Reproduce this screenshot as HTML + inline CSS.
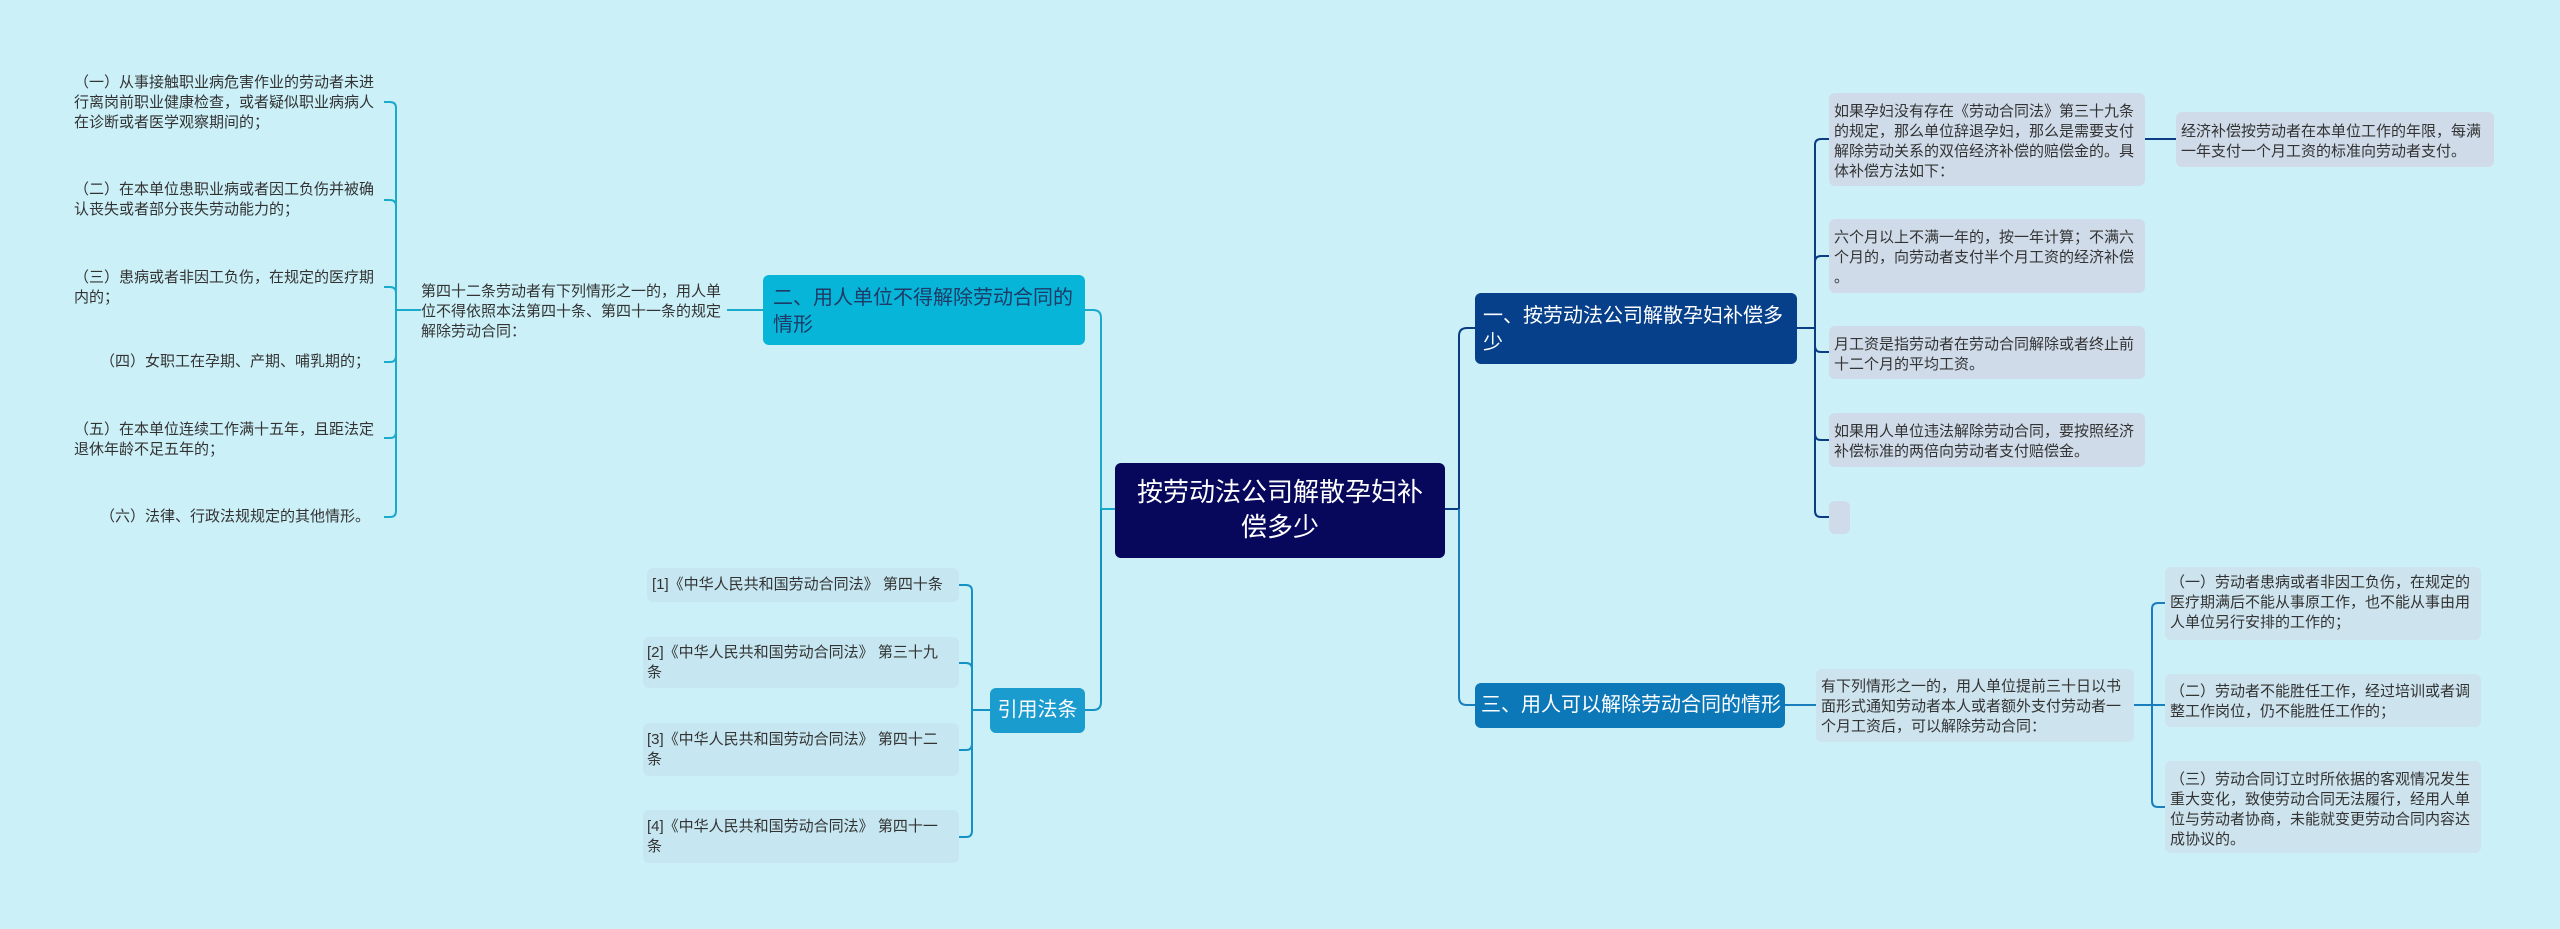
<!DOCTYPE html>
<html><head><meta charset="utf-8"><style>
body{margin:0;width:2560px;height:929px;background:#cbf0f8;position:relative;overflow:hidden;font-family:"Liberation Sans","Noto Sans CJK SC",sans-serif;}
.t{position:absolute;font-size:15px;line-height:20px;color:#333;white-space:nowrap;}
.b{position:absolute;border-radius:6px;box-sizing:border-box;}
.box{background:#cfdbe9;}
.lb{background:#c6e7f1;}
.n{position:absolute;border-radius:6px;box-sizing:border-box;font-size:20px;line-height:27px;white-space:nowrap;}
</style></head><body>
<svg width="2560" height="929" style="position:absolute;left:0;top:0" fill="none" stroke-width="2">
<g stroke="#1aaacb">
<path d="M727 310 H763"/>
<path d="M421 310 H396"/>
<path d="M396 310 V108 Q396 102 390 102 H384"/>
<path d="M396 310 V206 Q396 200 390 200 H384"/>
<path d="M396 310 V293 Q396 287 390 287 H384"/>
<path d="M396 310 V356 Q396 362 390 362 H384"/>
<path d="M396 310 V432 Q396 438 390 438 H384"/>
<path d="M396 310 V511 Q396 517 390 517 H384"/>
<path d="M1115 509 H1101 V318 Q1101 310 1093 310 H1085"/>
</g>
<g stroke="#1592c4">
<path d="M1101 509 V702 Q1101 710 1093 710 H1085"/>
<path d="M990 710 H972"/>
<path d="M972 710 V591 Q972 585 966 585 H959"/>
<path d="M972 710 V669 Q972 663 966 663 H959"/>
<path d="M972 710 V744 Q972 750 966 750 H959"/>
<path d="M972 710 V831 Q972 837 966 837 H959"/>
</g>
<g stroke="#0b3d85">
<path d="M1445 509 H1459 V336 Q1459 328 1467 328 H1475"/>
<path d="M1797 328 H1815"/>
<path d="M1815 328 V145 Q1815 139 1821 139 H1829"/>
<path d="M1815 328 V262 Q1815 256 1821 256 H1829"/>
<path d="M1815 328 V346 Q1815 352 1821 352 H1829"/>
<path d="M1815 328 V434 Q1815 440 1821 440 H1829"/>
<path d="M1815 328 V511 Q1815 517 1821 517 H1829"/>
<path d="M2145 139 H2176"/>
</g>
<g stroke="#1b7fbe">
<path d="M1459 509 V697 Q1459 705 1467 705 H1475"/>
<path d="M1785 705 H1816"/>
<path d="M2134 705 H2152"/>
<path d="M2152 705 V609 Q2152 603 2158 603 H2165"/>
<path d="M2152 705 V705 H2165"/>
<path d="M2152 705 V801 Q2152 807 2158 807 H2165"/>
</g>
</svg>

<!-- central -->
<div class="n" style="left:1115px;top:463px;width:330px;height:95px;background:#07075c;color:#fff;font-size:26px;line-height:35px;text-align:center;padding-top:12px;">按劳动法公司解散孕妇补<br>偿多少</div>

<!-- node 二 -->
<div class="n" style="left:763px;top:275px;width:322px;height:70px;background:#07b5d8;color:#1e3a66;padding:10px 0 0 10px;">二、用人单位不得解除劳动合同的<br>情形</div>
<div class="t" style="left:421px;top:282px;">第四十二条劳动者有下列情形之一的，用人单<br>位不得依照本法第四十条、第四十一条的规定<br>解除劳动合同：</div>
<div class="t" style="left:74px;top:73px;">（一）从事接触职业病危害作业的劳动者未进<br>行离岗前职业健康检查，或者疑似职业病病人<br>在诊断或者医学观察期间的；</div>
<div class="t" style="left:74px;top:180px;">（二）在本单位患职业病或者因工负伤并被确<br>认丧失或者部分丧失劳动能力的；</div>
<div class="t" style="left:74px;top:268px;">（三）患病或者非因工负伤，在规定的医疗期<br>内的；</div>
<div class="t" style="left:100px;top:352px;width:270px;text-align:right;">（四）女职工在孕期、产期、哺乳期的；</div>
<div class="t" style="left:74px;top:420px;">（五）在本单位连续工作满十五年，且距法定<br>退休年龄不足五年的；</div>
<div class="t" style="left:100px;top:507px;width:270px;text-align:right;">（六）法律、行政法规规定的其他情形。</div>

<!-- 引用法条 -->
<div class="n" style="left:990px;top:688px;width:95px;height:45px;background:#1a9ccf;color:#fff;text-align:center;padding-top:9px;">引用法条</div>
<div class="b lb" style="left:647px;top:568px;width:312px;height:34px;"></div>
<div class="t" style="left:652px;top:575px;">[1]《中华人民共和国劳动合同法》 第四十条</div>
<div class="b lb" style="left:643px;top:637px;width:316px;height:51px;"></div>
<div class="t" style="left:647px;top:643px;">[2]《中华人民共和国劳动合同法》 第三十九<br>条</div>
<div class="b lb" style="left:643px;top:723px;width:316px;height:53px;"></div>
<div class="t" style="left:647px;top:730px;">[3]《中华人民共和国劳动合同法》 第四十二<br>条</div>
<div class="b lb" style="left:643px;top:810px;width:316px;height:53px;"></div>
<div class="t" style="left:647px;top:817px;">[4]《中华人民共和国劳动合同法》 第四十一<br>条</div>

<!-- node 一 -->
<div class="n" style="left:1475px;top:293px;width:322px;height:71px;background:#063f8a;color:#fff;padding:10px 0 0 8px;">一、按劳动法公司解散孕妇补偿多<br>少</div>
<div class="b box" style="left:1829px;top:93px;width:316px;height:93px;"></div>
<div class="t" style="left:1834px;top:102px;">如果孕妇没有存在《劳动合同法》第三十九条<br>的规定，那么单位辞退孕妇，那么是需要支付<br>解除劳动关系的双倍经济补偿的赔偿金的。具<br>体补偿方法如下：</div>
<div class="b box" style="left:1829px;top:219px;width:316px;height:74px;"></div>
<div class="t" style="left:1834px;top:228px;">六个月以上不满一年的，按一年计算；不满六<br>个月的，向劳动者支付半个月工资的经济补偿<br>。</div>
<div class="b box" style="left:1829px;top:326px;width:316px;height:53px;"></div>
<div class="t" style="left:1834px;top:335px;">月工资是指劳动者在劳动合同解除或者终止前<br>十二个月的平均工资。</div>
<div class="b box" style="left:1829px;top:413px;width:316px;height:54px;"></div>
<div class="t" style="left:1834px;top:422px;">如果用人单位违法解除劳动合同，要按照经济<br>补偿标准的两倍向劳动者支付赔偿金。</div>
<div class="b box" style="left:1829px;top:501px;width:21px;height:33px;"></div>
<div class="b box" style="left:2176px;top:112px;width:318px;height:55px;"></div>
<div class="t" style="left:2181px;top:122px;">经济补偿按劳动者在本单位工作的年限，每满<br>一年支付一个月工资的标准向劳动者支付。</div>

<!-- node 三 -->
<div class="n" style="left:1475px;top:683px;width:310px;height:45px;background:#0d78b8;color:#fff;padding:9px 0 0 6px;">三、用人可以解除劳动合同的情形</div>
<div class="b box" style="left:1816px;top:669px;width:318px;height:73px;background:#cde3ee;"></div>
<div class="t" style="left:1821px;top:677px;">有下列情形之一的，用人单位提前三十日以书<br>面形式通知劳动者本人或者额外支付劳动者一<br>个月工资后，可以解除劳动合同：</div>
<div class="b box" style="left:2165px;top:567px;width:316px;height:73px;background:#cde3ee;"></div>
<div class="t" style="left:2170px;top:573px;">（一）劳动者患病或者非因工负伤，在规定的<br>医疗期满后不能从事原工作，也不能从事由用<br>人单位另行安排的工作的；</div>
<div class="b box" style="left:2165px;top:674px;width:316px;height:53px;background:#cde3ee;"></div>
<div class="t" style="left:2170px;top:682px;">（二）劳动者不能胜任工作，经过培训或者调<br>整工作岗位，仍不能胜任工作的；</div>
<div class="b box" style="left:2165px;top:761px;width:316px;height:92px;background:#cde3ee;"></div>
<div class="t" style="left:2170px;top:770px;">（三）劳动合同订立时所依据的客观情况发生<br>重大变化，致使劳动合同无法履行，经用人单<br>位与劳动者协商，未能就变更劳动合同内容达<br>成协议的。</div>
</body></html>
